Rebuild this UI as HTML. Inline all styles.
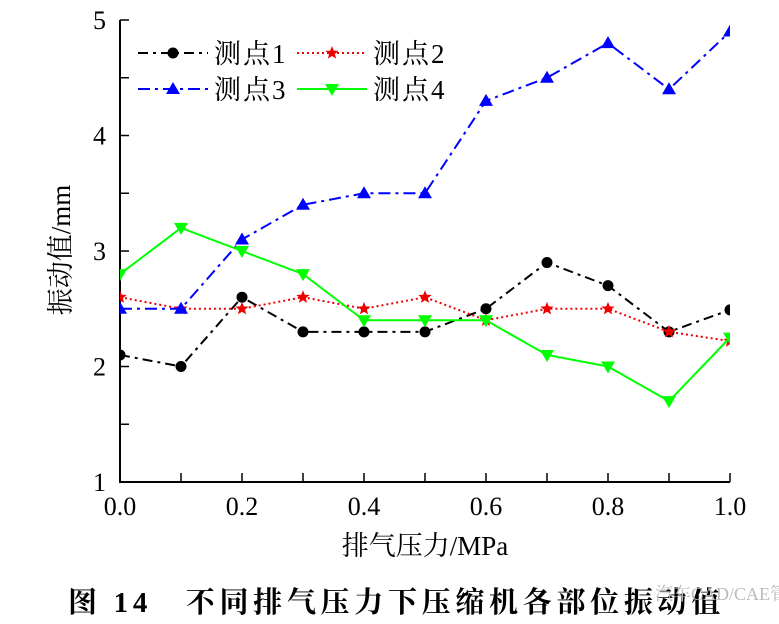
<!DOCTYPE html>
<html><head><meta charset="utf-8"><style>
body{margin:0;background:#fff;width:779px;height:624px;overflow:hidden}
svg{display:block}
text{font-family:"Liberation Serif","Noto Serif CJK SC",serif}
</style></head><body>
<svg id="chart" width="779" height="624">
<defs><clipPath id="clip"><rect x="120" y="10" width="610" height="473"/></clipPath></defs>
<g id="axes"></g>
<g id="series" clip-path="url(#clip)"></g>
<g id="legend"></g>
<text x="-250" y="70" transform="rotate(-90)" text-anchor="middle" font-size="27">振动值/mm</text>
<text x="425" y="555" text-anchor="middle" font-size="27">排气压力/MPa</text>
<text x="68" y="612" font-size="29" font-weight="bold" letter-spacing="4.7">图 14　不同排气压力下压缩机各部位振动值</text>
<text x="655" y="600" font-size="18" fill="#bbb" font-family="Liberation Sans,Noto Sans CJK SC,sans-serif">汽车CAD/CAE管理</text>
</svg>
<script>
const xCats=[0,0.1,0.2,0.3,0.4,0.5,0.6,0.7,0.8,0.9,1.0];
const s1=[2.1,2.0,2.6,2.3,2.3,2.3,2.5,2.9,2.7,2.3,2.49];
const s2=[2.6,2.5,2.5,2.6,2.5,2.6,2.4,2.5,2.5,2.3,2.22];
const s3=[2.5,2.5,3.1,3.4,3.5,3.5,4.3,4.5,4.8,4.4,4.9];
const s4=[2.8,3.2,3.0,2.8,2.4,2.4,2.4,2.1,2.0,1.7,2.25];
const xTicks=["0.0","0.2","0.4","0.6","0.8","1.0"];
const yTicks=["1","2","3","4","5"];
const names=["测点1","测点2","测点3","测点4"];
const NS="http://www.w3.org/2000/svg";
const X=v=>120+v*610, Y=v=>482-(v-1)*115.5;
function mk(t,a,p){const e=document.createElementNS(NS,t);for(const k in a)e.setAttribute(k,a[k]);p.appendChild(e);return e;}
const ax=document.getElementById('axes');
let l=mk('path',{d:`M120,20 V482 H730`,fill:'none',stroke:'#000','stroke-width':2},ax);


for(let i=0;i<=10;i++){let t=mk('line',{x1:X(i/10),x2:X(i/10),y1:482,y2:473,stroke:'#000','stroke-width':1.5},ax);

}
xTicks.forEach(s=>{let t=mk('text',{x:X(+s),y:515,'text-anchor':'middle','font-size':26},ax);t.textContent=s;

});
for(let v=1;v<=5;v+=0.5){let t=mk('line',{x1:120,x2:129,y1:Y(v),y2:Y(v),stroke:'#000','stroke-width':1.5},ax);

}
yTicks.forEach(s=>{let t=mk('text',{x:106,y:Y(+s)+9,'text-anchor':'end','font-size':26},ax);t.textContent=s;

});
const styles=[{c:'#000',d:'10,5,3,5',m:'circle'},{c:'#e00',d:'2,3',m:'star'},{c:'#00f',d:'12,5,3,5',m:'up'},{c:'#0f0',d:'',m:'down'}];
function marker(g,m,x,y,c){
 if(m==='circle')return mk('circle',{cx:x,cy:y,r:5.5,fill:c},g);
 if(m==='up')return mk('path',{d:`M${x},${y-7}L${x+7},${y+5}L${x-7},${y+5}Z`,fill:c},g);
 if(m==='down')return mk('path',{d:`M${x},${y+7}L${x+7},${y-5}L${x-7},${y-5}Z`,fill:c},g);
 let p='';for(let i=0;i<10;i++){const r=i%2?3:7,a=-Math.PI/2+i*Math.PI/5;p+=(i?'L':'M')+(x+r*Math.cos(a))+','+(y+r*Math.sin(a));}
 return mk('path',{d:p+'Z',fill:c},g);
}
const sg=document.getElementById('series');
[s1,s2,s3,s4].forEach((s,i)=>{const st=styles[i];
 const g=mk('g',{},sg);
 
 
 mk('polyline',{points:s.map((v,j)=>X(xCats[j])+','+Y(v)).join(' '),fill:'none',stroke:st.c,'stroke-width':2,'stroke-dasharray':st.d},g);
 s.forEach((v,j)=>{const m=marker(g,st.m,X(xCats[j]),Y(v),st.c);
 
 });
});
const lg=document.getElementById('legend');
const lp=[[138,53],[297,53],[138,89],[297,89]];
names.forEach((n,i)=>{const st=styles[i],[x,y]=lp[i];
 const g=mk('g',{},lg);
 
 
 mk('line',{x1:x,x2:x+70,y1:y,y2:y,stroke:st.c,'stroke-width':2,'stroke-dasharray':st.d},g);
 marker(g,st.m,x+35,y,st.c);
 const t=mk('text',{x:x+76,y:y+10,'font-size':27,'letter-spacing':2},g);t.textContent=n;
});
</script>
</body></html>
